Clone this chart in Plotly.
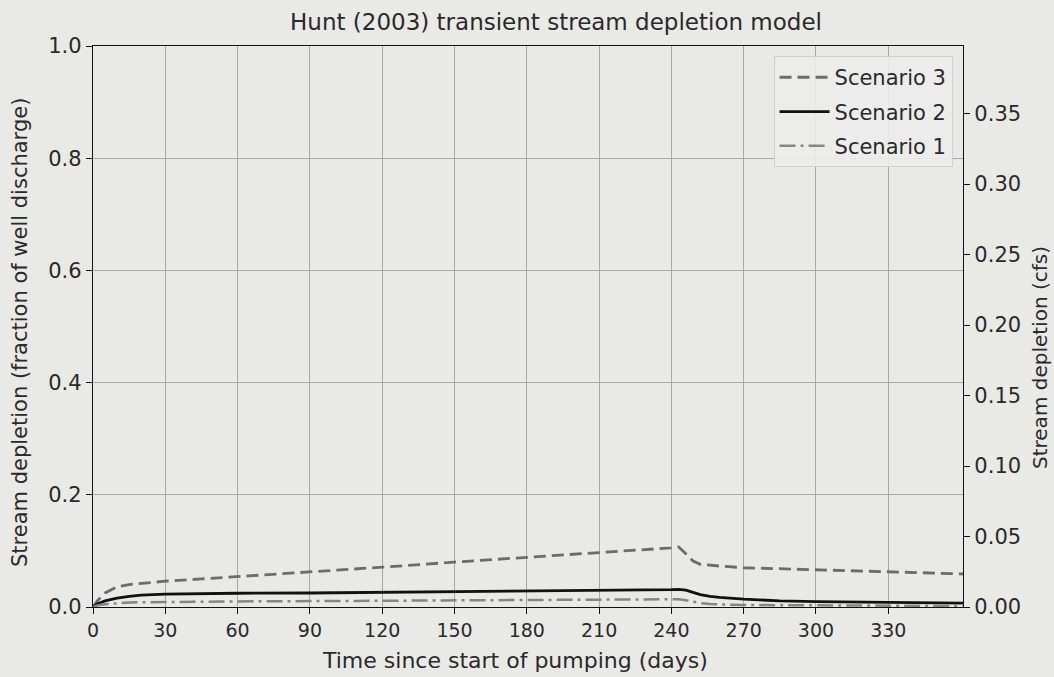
import plotly.graph_objects as go

# Time since start of pumping (days)
days = [0, 2, 5, 10, 15, 20, 30, 45, 60, 90, 120, 150, 180, 210, 240,
        243, 246, 249, 252, 256, 260, 270, 285, 300, 330, 361]

# Stream depletion as fraction of well discharge
scenario_3 = [0.0, 0.012, 0.025, 0.036, 0.040, 0.042, 0.046, 0.050, 0.054, 0.062,
              0.071, 0.080, 0.089, 0.097, 0.1055, 0.107, 0.095, 0.082, 0.076, 0.074,
              0.073, 0.070, 0.068, 0.066, 0.062, 0.059]
scenario_2 = [0.0, 0.006, 0.011, 0.016, 0.019, 0.021, 0.023, 0.024, 0.0245, 0.025,
              0.026, 0.027, 0.0285, 0.030, 0.031, 0.0315, 0.030, 0.026, 0.022, 0.019,
              0.017, 0.014, 0.011, 0.0095, 0.008, 0.007]
scenario_1 = [0.0, 0.003, 0.005, 0.007, 0.008, 0.0085, 0.009, 0.0095, 0.010, 0.0105,
              0.011, 0.012, 0.0125, 0.013, 0.0135, 0.0138, 0.012, 0.009, 0.007, 0.0055,
              0.0045, 0.0035, 0.003, 0.0025, 0.002, 0.0018]

well_discharge_cfs = 0.398  # right axis maximum corresponds to fraction 1.0

x_ticks = [0, 30, 60, 90, 120, 150, 180, 210, 240, 270, 300, 330]
y_ticks = [0.0, 0.2, 0.4, 0.6, 0.8, 1.0]
y2_ticks = [0.00, 0.05, 0.10, 0.15, 0.20, 0.25, 0.30, 0.35]

FONT = "DejaVu Sans"
BG = "#e9e9e6"
TXT = "#2a2a2a"

fig = go.Figure()
fig.add_trace(go.Scatter(x=days, y=scenario_3, mode="lines", name="Scenario 3",
                         legendgroup="s3",
                         line=dict(color="#6c6c6c", width=2.8, dash="12px,6px")))
fig.add_trace(go.Scatter(x=days, y=scenario_2, mode="lines", name="Scenario 2",
                         legendgroup="s2",
                         line=dict(color="#111111", width=2.8)))
fig.add_trace(go.Scatter(x=days, y=scenario_1, mode="lines", name="Scenario 1",
                         legendgroup="s1",
                         line=dict(color="#858585", width=2.5, dash="16px,5px,3px,5px")))
# invisible trace carrying the cfs axis
fig.add_trace(go.Scatter(x=days, y=[v * well_discharge_cfs for v in scenario_3],
                         yaxis="y2", mode="lines", showlegend=False, hoverinfo="skip",
                         line=dict(color="rgba(0,0,0,0)", width=0)))

axis_common = dict(showline=True, linecolor="#111111", linewidth=1.3,
                   ticks="outside", ticklen=6, tickcolor="#111111", tickwidth=1.2,
                   zeroline=False)

fig.update_layout(
    width=1054, height=677,
    paper_bgcolor=BG, plot_bgcolor=BG,
    margin=dict(l=93, r=91, t=46, b=70),
    font=dict(family=FONT, size=19, color=TXT),
    title=dict(text="Hunt (2003) transient stream depletion model",
               x=556 / 1054, xanchor="center", y=0.967, yanchor="middle",
               font=dict(family=FONT, size=23, color=TXT)),
    xaxis=dict(range=[0, 361], tickvals=x_ticks, mirror=True,
               showgrid=True, gridcolor="#a8a8a8", gridwidth=1,
               tickfont=dict(family=FONT, size=19, color=TXT),
               **axis_common),
    yaxis=dict(range=[0, 1.0], tickvals=y_ticks, tickformat=".1f",
               showgrid=True, gridcolor="#a8a8a8", gridwidth=1,
               tickfont=dict(family=FONT, size=21, color=TXT),
               **axis_common),
    yaxis2=dict(range=[0, well_discharge_cfs], tickvals=y2_ticks, tickformat=".2f",
                overlaying="y", side="right", showgrid=False,
                tickfont=dict(family=FONT, size=21, color=TXT),
                **axis_common),
    legend=dict(x=0.988, xanchor="right", y=0.982, yanchor="top",
                bgcolor="rgba(236,236,234,0.9)", bordercolor="#d0d0d0", borderwidth=1,
                font=dict(family=FONT, size=21, color=TXT),
                tracegroupgap=4, itemwidth=50),
    showlegend=True,
    annotations=[
        dict(text="Time since start of pumping (days)", xref="paper", yref="paper",
             x=(515 - 93) / 870, y=(607 - 660) / 561, xanchor="center", yanchor="middle",
             showarrow=False, font=dict(family=FONT, size=22, color=TXT)),
        dict(text="Stream depletion (fraction of well discharge)", xref="paper", yref="paper",
             x=(20 - 93) / 870, y=(607 - 333) / 561, xanchor="center", yanchor="middle",
             textangle=-90, showarrow=False, font=dict(family=FONT, size=21, color=TXT)),
        dict(text="Stream depletion (cfs)", xref="paper", yref="paper",
             x=(1040 - 93) / 870, y=(607 - 358) / 561, xanchor="center", yanchor="middle",
             textangle=-90, showarrow=False, font=dict(family=FONT, size=20, color=TXT)),
    ],
)

fig.write_html("out.html", config={"displayModeBar": False},
               post_script="document.body.style.margin='0';"
                           "document.body.style.background='#e9e9e6';")
